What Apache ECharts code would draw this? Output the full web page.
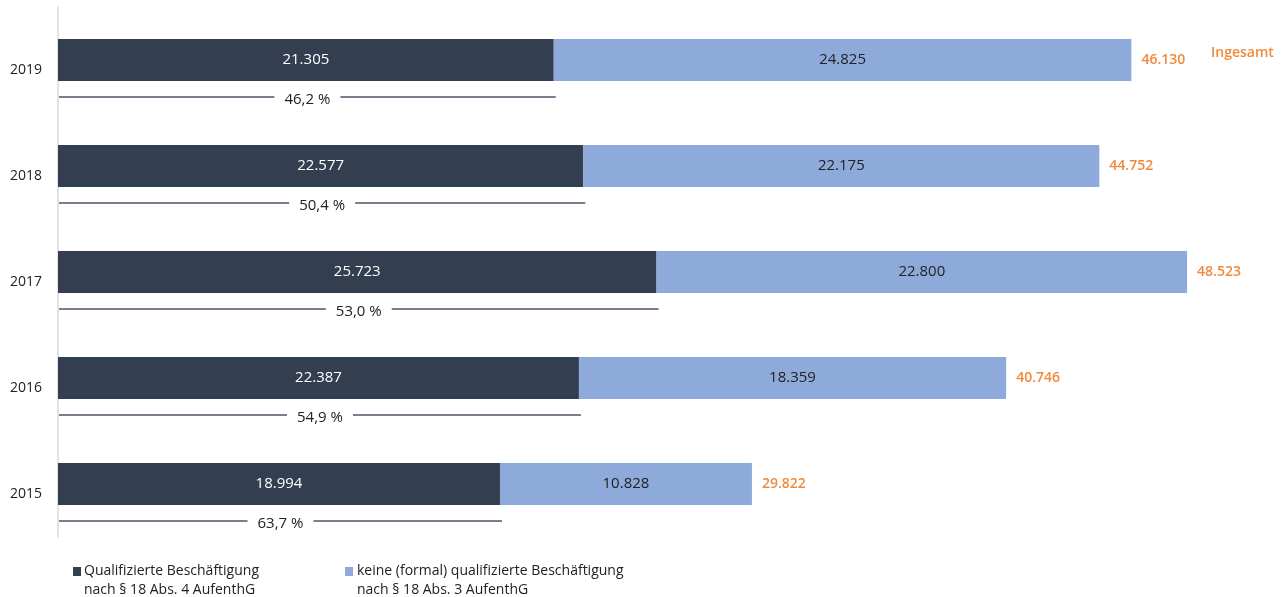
<!DOCTYPE html>
<html>
<head>
<meta charset="utf-8">
<script src="https://cdn.jsdelivr.net/npm/echarts@6/dist/echarts.min.js"></script>
<style>
html,body{margin:0;padding:0;background:#fff;}
#chart{width:1287px;height:597px;}
</style>
</head>
<body>
<div id="chart"></div>
<script>
const years = ['2015', '2016', '2017', '2018', '2019'];
const qualified = [18994, 22387, 25723, 22577, 21305];
const nonQualified = [10828, 18359, 22800, 22175, 24825];
const totals = [29822, 40746, 48523, 44752, 46130];
const shares = ['63,7 %', '54,9 %', '53,0 %', '50,4 %', '46,2 %'];
const legendNames = ['Qualifizierte Beschäftigung\nnach § 18 Abs. 4 AufenthG', 'keine (formal) qualifizierte Beschäftigung\nnach § 18 Abs. 3 AufenthG'];
const totalTitle = 'Ingesamt';

const FONT = '"Open Sans", "Noto Sans", sans-serif';
const DARK = '#333e50';
const LIGHT = '#8eaadb';
const ORANGE = '#f08a3c';

function fmt(n) {
  return String(n).replace(/\B(?=(\d{3})+(?!\d))/g, '.');
}

const chart = echarts.init(document.getElementById('chart'), null, {renderer: 'canvas'});

const option = {
  backgroundColor: '#fff',
  animation: false,
  textStyle: {fontFamily: FONT},
  grid: {left: 58, right: 19, top: 7, bottom: 60, containLabel: false},
  xAxis: {type: 'value', min: 0, max: 52000, show: false},
  yAxis: {
    type: 'category',
    data: years,
    axisLine: {show: true, lineStyle: {color: '#e3e3e3', width: 2}},
    axisTick: {show: false},
    splitLine: {show: false},
    axisLabel: {color: '#222', fontSize: 14, fontFamily: FONT, margin: 16, verticalAlign: 'top', lineHeight: 21}
  },
  series: [
    {
      name: 'q',
      type: 'bar',
      stack: 'total',
      barWidth: 42,
      data: qualified,
      itemStyle: {color: DARK},
      label: {show: true, position: 'inside', color: '#fff', fontSize: 15, fontFamily: FONT,
        formatter: p => fmt(p.value)}
    },
    {
      name: 'n',
      type: 'bar',
      stack: 'total',
      barWidth: 42,
      data: nonQualified,
      itemStyle: {color: LIGHT},
      label: {show: true, position: 'inside', color: '#222', fontSize: 15, fontFamily: FONT,
        formatter: p => fmt(p.value)}
    },
    {
      name: 'tot',
      type: 'bar',
      stack: 'total',
      barWidth: 42,
      data: totals.map(() => 0),
      itemStyle: {color: 'transparent'},
      label: {show: true, position: 'right', distance: 10, color: ORANGE, fontSize: 14, fontWeight: 600, fontFamily: FONT,
        formatter: p => fmt(totals[p.dataIndex])}
    },
    {
      name: 'share',
      type: 'custom',
      data: qualified.map((v, i) => [v, i]),
      encode: {x: 0, y: 1},
      z: 5,
      renderItem: function (params, api) {
        const val = api.value(0);
        const cat = api.value(1);
        const p0 = api.coord([0, cat]);
        const p1 = api.coord([val, cat]);
        const y = p0[1] + 37;
        const x0 = p0[0] + 1;
        const x1 = p1[0] + 2;
        const mid = (x0 + x1) / 2;
        const gap = 33;
        const ls = {stroke: '#4b5466', lineWidth: 1.5};
        return {
          type: 'group',
          children: [
            {type: 'line', shape: {x1: x0, y1: y, x2: mid - gap, y2: y}, style: ls},
            {type: 'line', shape: {x1: mid + gap, y1: y, x2: x1, y2: y}, style: ls},
            {type: 'text', style: {x: mid, y: y + 3, text: shares[params.dataIndex], fill: '#222',
              font: '15px ' + FONT, align: 'center', verticalAlign: 'middle'}}
          ]
        };
      }
    }
  ],
  graphic: [
    {type: 'text', left: 1211, top: 46, style: {text: totalTitle, fill: ORANGE, font: '600 14px ' + FONT}},
    {type: 'rect', left: 73, top: 567, shape: {width: 8, height: 9}, style: {fill: DARK}},
    {type: 'text', left: 84, top: 562, style: {text: legendNames[0], fill: '#222', font: '14px ' + FONT, lineHeight: 19}},
    {type: 'rect', left: 345, top: 567, shape: {width: 8, height: 9}, style: {fill: LIGHT}},
    {type: 'text', left: 357, top: 562, style: {text: legendNames[1], fill: '#222', font: '14px ' + FONT, lineHeight: 19}}
  ]
};
chart.setOption(option);
</script>
</body>
</html>
